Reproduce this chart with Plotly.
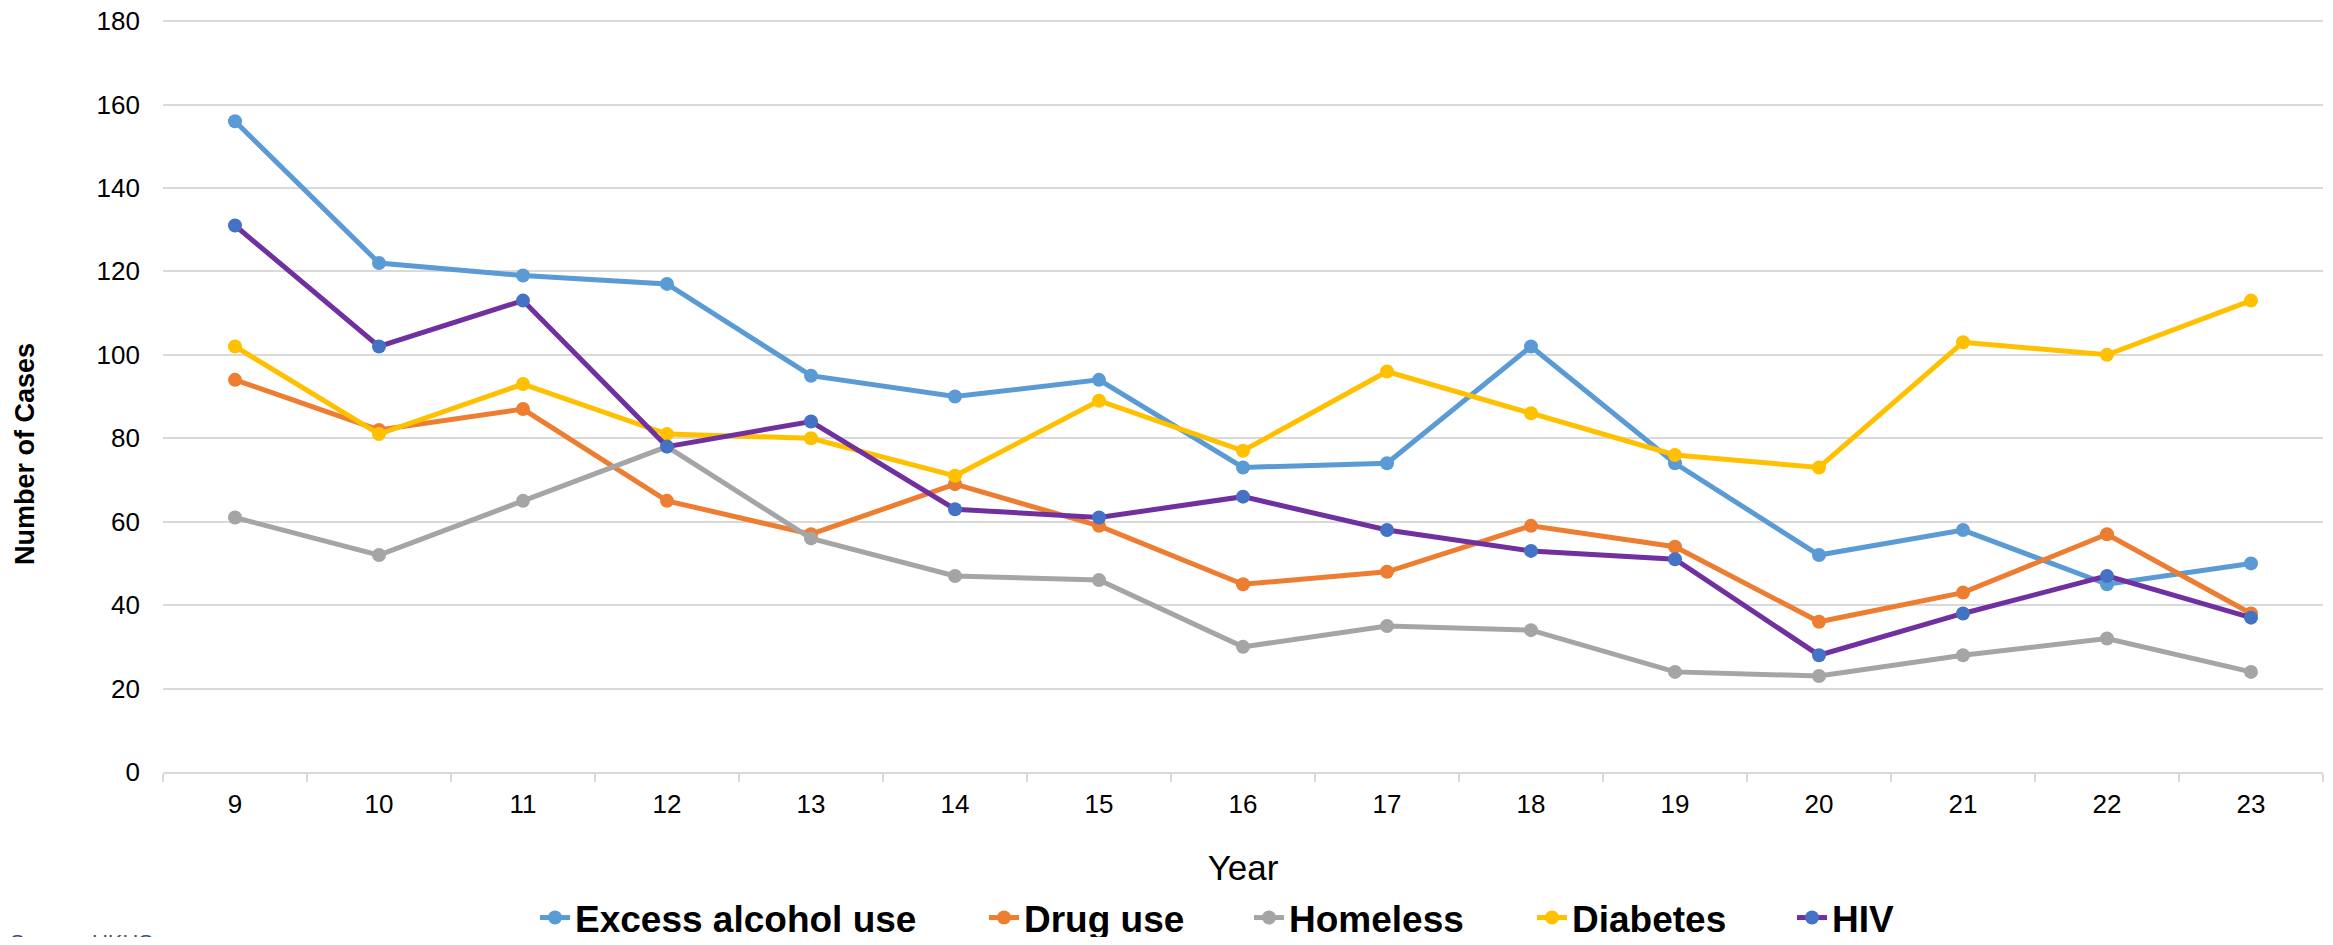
import plotly.graph_objects as go

years = ["9", "10", "11", "12", "13", "14", "15", "16", "17", "18", "19", "20", "21", "22", "23"]
alcohol = [156, 122, 119, 117, 95, 90, 94, 73, 74, 102, 74, 52, 58, 45, 50]
drug = [94, 82, 87, 65, 57, 69, 59, 45, 48, 59, 54, 36, 43, 57, 38]
homeless = [61, 52, 65, 78, 56, 47, 46, 30, 35, 34, 24, 23, 28, 32, 24]
diabetes = [102, 81, 93, 81, 80, 71, 89, 77, 96, 86, 76, 73, 103, 100, 113]
hiv = [131, 102, 113, 78, 84, 63, 61, 66, 58, 53, 51, 28, 38, 47, 37]

series = [
    ("Excess alcohol use", alcohol, "#5B9BD5", "#5B9BD5"),
    ("Drug use", drug, "#ED7D31", "#ED7D31"),
    ("Homeless", homeless, "#A5A5A5", "#A5A5A5"),
    ("Diabetes", diabetes, "#FFC000", "#FFC000"),
    ("HIV", hiv, "#7030A0", "#4472C4"),
]
# left edge (page px) of each legend entry's text in the reference
legend_text_x = [576, 1025, 1290, 1573, 1833]

# the page body has an 8px margin, so the figure is drawn 8px in from the corner
OFF = 8
W, H = 2333 - 2 * OFF, 945 - 2 * OFF
YTOP = 180.5  # small headroom so the 180 gridline is not clipped at the plot edge
PX_PER_UNIT = (772 - 21) / 180
ML, MT = 163 - OFF, 21 - OFF - round((YTOP - 180) * PX_PER_UNIT)
MR = W - (2323 - OFF)
MB = H - (772 - OFF)
PW, PH = W - ML - MR, H - MT - MB
FONT = "Liberation Sans, Arial, sans-serif"


def px_x(px):
    return (px - OFF - ML) / PW


def px_y(py):
    return (H - MB - (py - OFF)) / PH


fig = go.Figure()
legend_layouts = {}
for i, (name, vals, lc, mc) in enumerate(series):
    key = "legend" if i == 0 else f"legend{i + 1}"
    fig.add_trace(go.Scatter(
        x=years, y=vals, name=name, mode="lines+markers",
        line=dict(color=lc, width=5),
        marker=dict(color=mc, size=14),
        legend=key,
    ))
    legend_layouts[key] = dict(
        xref="container", yref="container",
        x=(legend_text_x[i] - OFF - 41) / W, xanchor="left",
        y=(H - (918 - OFF)) / H, yanchor="middle",
        orientation="h", bgcolor="rgba(0,0,0,0)",
        font=dict(size=37, family=FONT, weight="bold", color="black"),
    )

fig.update_layout(
    width=W, height=H,
    margin=dict(l=ML, r=MR, t=MT, b=MB, autoexpand=False),
    paper_bgcolor="white", plot_bgcolor="white",
    font=dict(family=FONT, color="black"),
    showlegend=True,
    xaxis=dict(
        type="category", range=[-0.5, 14.5], automargin=False,
        showgrid=False, showline=True, linecolor="#D9D9D9", linewidth=2,
        ticks="outside", tickson="boundaries", ticklen=8, tickcolor="#D9D9D9", tickwidth=2,
        tickfont=dict(size=26, color="black"), ticklabelstandoff=8,
        title=dict(text="Year", font=dict(size=35, color="black"), standoff=47),
    ),
    yaxis=dict(
        range=[0, YTOP], tick0=0, dtick=20, showgrid=True, gridcolor="#D9D9D9", gridwidth=2,
        zeroline=False, showline=False, automargin=False, ticklabeloverflow="allow",
        tickfont=dict(size=26, color="black"), ticklabelstandoff=22,
    ),
    **legend_layouts,
)
fig.add_annotation(
    text="<b>Number of Cases</b>", xref="paper", yref="paper",
    x=px_x(25), y=px_y(454), xanchor="center", yanchor="middle",
    textangle=-90, showarrow=False,
    font=dict(size=27, color="black", family=FONT),
)
fig.add_annotation(
    text="Source: UKHS", xref="paper", yref="paper", x=px_x(8), xanchor="left",
    y=px_y(928), yanchor="top", showarrow=False,
    font=dict(size=22, color="#44546A", family=FONT),
)
fig.write_html("out.html")
